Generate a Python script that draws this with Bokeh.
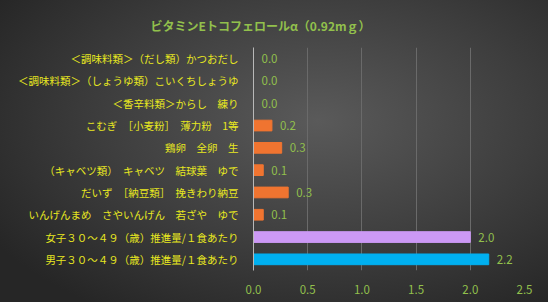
from bokeh.plotting import figure
from bokeh.models import ColumnDataSource, LabelSet, FixedTicker, Range1d, CustomJSTickFormatter
from bokeh.core.properties import value
from bokeh.embed import file_html
from bokeh.resources import INLINE

title = "ビタミンEトコフェロールα（0.92mｇ）"
categories = [
    "＜調味料類＞（だし類）かつおだし",
    "＜調味料類＞（しょうゆ類）こいくちしょうゆ",
    "＜香辛料類＞からし　練り",
    "こむぎ　［小麦粉］　薄力粉　1等",
    "鶏卵　全卵　生",
    "（キャベツ類）　キャベツ　結球葉　ゆで",
    "だいず　［納豆類］　挽きわり納豆",
    "いんげんまめ　さやいんげん　若ざや　ゆで",
    "女子３０～４９（歳）推進量/１食あたり",
    "男子３０～４９（歳）推進量/１食あたり",
]
values = [0.0, 0.0, 0.0, 0.17, 0.26, 0.09, 0.32, 0.09, 2.0, 2.17]
x_ticks = [0.0, 0.5, 1.0, 1.5, 2.0, 2.5]

ORANGE = "#f07430"
PURPLE = "#cc99f5"
BLUE = "#00b0f0"
colors = [ORANGE] * (len(categories) - 2) + [PURPLE, BLUE]

src = ColumnDataSource(dict(
    cat=categories, val=values, color=colors,
    label=[f"{v:.1f}" for v in values],
))

p = figure(width=548, height=302, output_backend="svg", toolbar_location=None,
           y_range=list(reversed(categories)), x_range=Range1d(0, 2.5),
           min_border_left=253, min_border_right=24, min_border_top=46,
           min_border_bottom=32)
p.styles = {"background": "radial-gradient(ellipse 70% 75% at 58% 40%, #5a5a5a 0%, #3e3e3e 55%, #262626 100%)"}
p.border_fill_color = None
p.background_fill_color = None
p.outline_line_color = None

p.title.text = title
p.title.align = "left"
p.title.offset = -103
p.title.standoff = 28
p.title.text_color = "#92c04c"
p.title.text_font = "Noto Sans CJK JP"
p.title.text_font_size = "12px"
p.title.text_font_style = "bold"

p.hbar(y="cat", right="val", left=0, height=0.48, color="color", source=src)

labels = LabelSet(x="val", y="cat", text="label", source=src, x_offset=8,
                  text_baseline="middle", text_color="#92c04c",
                  text_font_size="11.5px", text_font=value("Noto Sans CJK JP"))
p.add_layout(labels)

p.xaxis.ticker = FixedTicker(ticks=x_ticks)
p.xaxis.formatter = CustomJSTickFormatter(code="return tick.toFixed(1);")
p.xaxis.axis_line_color = None
p.xaxis.major_tick_line_color = None
p.xaxis.minor_tick_line_color = None
p.xaxis.major_label_text_color = "#92c04c"
p.xaxis.major_label_text_font = "Noto Sans CJK JP"
p.xaxis.major_label_text_font_size = "11.5px"
p.xaxis.major_label_standoff = 8

p.yaxis.axis_line_color = "#b8b8b8"
p.yaxis.major_tick_line_color = None
p.yaxis.minor_tick_line_color = None
p.yaxis.major_label_text_color = "#e8e820"
p.yaxis.major_label_text_font = "Noto Sans CJK JP"
p.yaxis.major_label_text_font_size = "10.5px"
p.yaxis.major_label_standoff = 9

p.ygrid.grid_line_color = None
p.xgrid.grid_line_color = "#6a6a6a"
p.xgrid.ticker = FixedTicker(ticks=x_ticks[1:])

open("out.html", "w").write(file_html(p, INLINE))
